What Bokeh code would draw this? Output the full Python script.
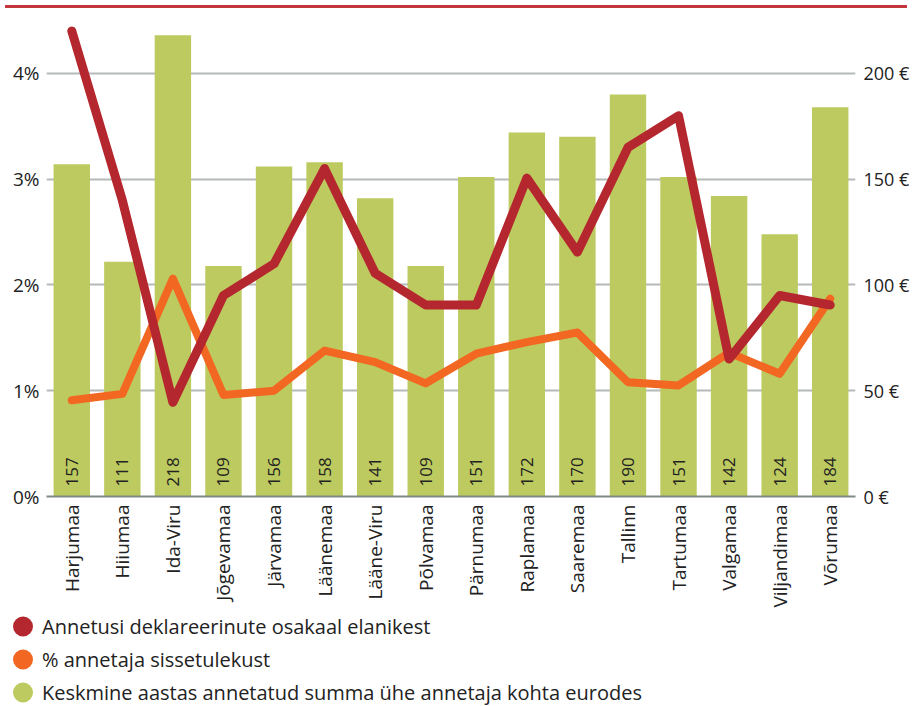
import math
from bokeh.plotting import figure
from bokeh.layouts import column
from bokeh.models import (ColumnDataSource, Range1d, LinearAxis, FactorRange, Legend,
                          LegendItem, FixedTicker, PrintfTickFormatter, Div)
from bokeh.core.properties import value
from bokeh.embed import file_html
from bokeh.resources import INLINE

# ---------------- data ----------------
counties = ["Harjumaa", "Hiiumaa", "Ida-Viru", "Jõgevamaa", "Järvamaa", "Läänemaa",
            "Lääne-Viru", "Põlvamaa", "Pärnumaa", "Raplamaa", "Saaremaa", "Tallinn",
            "Tartumaa", "Valgamaa", "Viljandimaa", "Võrumaa"]
avg_sum_eur = [157, 111, 218, 109, 156, 158, 141, 109, 151, 172, 170, 190, 151, 142, 124, 184]
share_declared_pct = [4.40, 2.80, 0.89, 1.90, 2.20, 3.10, 2.11, 1.81, 1.81, 3.01, 2.31,
                      3.30, 3.60, 1.30, 1.90, 1.81]
share_income_pct = [0.91, 0.97, 2.06, 0.96, 1.00, 1.38, 1.27, 1.07, 1.35, 1.46, 1.55,
                    1.08, 1.05, 1.36, 1.16, 1.87]
left_ticks = [0, 1, 2, 3, 4]
right_ticks = [0, 50, 100, 150, 200]
legend_labels = ["Annetusi deklareerinute osakaal elanikest",
                 "% annetaja sissetulekust",
                 "Keskmine aastas annetatud summa ühe annetaja kohta eurodes"]

RED = "#B5272F"
ORANGE = "#F26722"
GREEN = "#BDCA5F"
GRID = "#B5BAB8"
AXIS = "#7F8985"
TXT = "#222222"
FONT = "Open Sans"
W = 913

src = ColumnDataSource(dict(
    county=counties,
    avg=avg_sum_eur,
    avg_label=[str(v) for v in avg_sum_eur],
    declared=share_declared_pct,
    income=share_income_pct,
    zero=[0] * len(counties),
))

p = figure(x_range=FactorRange(*counties), y_range=Range1d(0, 4.5),
           width=W, height=603, output_backend="svg", toolbar_location=None,
           min_border_left=46, min_border_right=58, min_border_top=12, min_border_bottom=115)
p.extra_y_ranges = {"eur": Range1d(0, 225)}
p.outline_line_color = None
p.background_fill_color = "white"

p.vbar(x="county", top="avg", width=0.72, source=src, y_range_name="eur",
       fill_color=GREEN, line_color=None)
p.text(x="county", y="zero", text="avg_label", source=src, y_range_name="eur",
       angle=math.pi / 2, text_align="left", text_baseline="middle", y_offset=-10,
       text_font=value(FONT), text_font_size="17px", text_color=TXT)
p.line(x="county", y="income", source=src, line_color=ORANGE, line_width=8,
       line_join="round", line_cap="round")
p.line(x="county", y="declared", source=src, line_color=RED, line_width=9,
       line_join="round", line_cap="round")

# grid
p.xgrid.grid_line_color = None
p.ygrid.grid_line_color = GRID
p.ygrid.grid_line_width = 2
p.ygrid.ticker = FixedTicker(ticks=left_ticks)

# left axis
ya = p.yaxis[0]
ya.ticker = FixedTicker(ticks=left_ticks)
ya.formatter = PrintfTickFormatter(format="%d%%")
ya.axis_line_color = None
ya.major_tick_line_color = None
ya.minor_tick_line_color = None
ya.major_tick_out = 0
ya.major_tick_in = 0
ya.major_label_standoff = 7
ya.major_label_text_font = FONT
ya.major_label_text_font_size = "19px"
ya.major_label_text_color = TXT

# right axis
ra = LinearAxis(y_range_name="eur", ticker=FixedTicker(ticks=right_ticks),
                formatter=PrintfTickFormatter(format="%d €"))
ra.axis_line_color = None
ra.major_tick_line_color = None
ra.minor_tick_line_color = None
ra.major_tick_out = 0
ra.major_tick_in = 0
ra.major_label_standoff = 8
ra.major_label_text_font = FONT
ra.major_label_text_font_size = "18px"
ra.major_label_text_color = TXT
p.add_layout(ra, "right")

# bottom axis
xa = p.xaxis[0]
xa.axis_line_color = AXIS
xa.axis_line_width = 2
xa.major_tick_line_color = None
xa.minor_tick_line_color = None
xa.major_tick_out = 0
xa.major_tick_in = 0
xa.major_label_orientation = math.pi / 2
xa.major_label_standoff = 8
xa.major_label_text_font = FONT
xa.major_label_text_font_size = "19px"
xa.major_label_text_color = TXT

# ---------------- legend strip (separate root, so it is not frame-aligned) ----------------
lg = figure(width=W, height=95, x_range=Range1d(0, 1), y_range=Range1d(0, 1),
            output_backend="svg", toolbar_location=None,
            x_axis_type=None, y_axis_type=None, min_border=0)
lg.outline_line_color = None
lg.grid.visible = False
leg_colors = [RED, ORANGE, GREEN]
items = []
for lab, col in zip(legend_labels, leg_colors):
    # placeholder renderer (no visible data): only its round legend swatch is drawn
    r = lg.ellipse(x=[float("nan")], y=[float("nan")], width=20, height=20,
                   width_units="screen", height_units="screen",
                   fill_color=col, line_color=None)
    items.append(LegendItem(label=lab, renderers=[r]))
legend = Legend(items=items, location=(10, 0), orientation="vertical",
                glyph_width=25, glyph_height=28, label_height=28, spacing=5,
                label_standoff=7, padding=0, margin=0,
                border_line_color=None, background_fill_alpha=0,
                label_text_font=FONT, label_text_font_size="20px",
                label_text_color=TXT)
lg.add_layout(legend, "center")

topline = Div(text="", width=902, height=3, margin=(5, 6, 0, 5),
              styles={"background-color": "#C1373C"})

main = column(topline, p, spacing=0)
open("out.html", "w").write(file_html([main, lg], INLINE))
